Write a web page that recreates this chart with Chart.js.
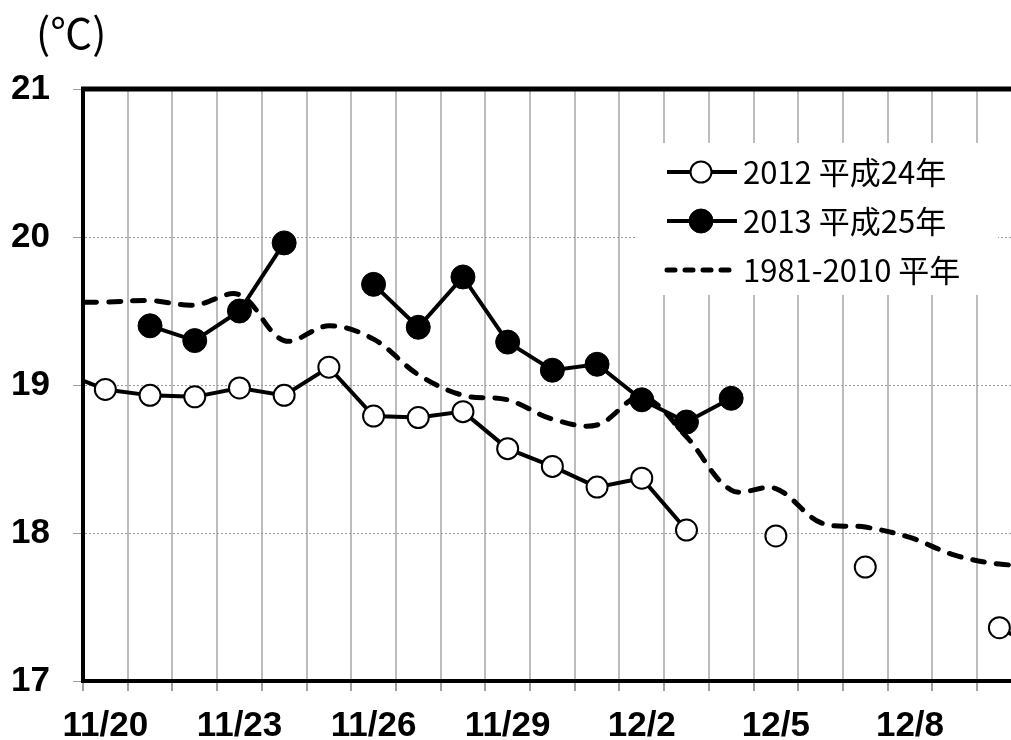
<!DOCTYPE html>
<html lang="ja">
<head>
<meta charset="utf-8">
<title>気温の推移</title>
<script src="https://cdn.jsdelivr.net/npm/chart.js@4.4.1/dist/chart.umd.min.js"></script>
<style>
  html, body { margin: 0; padding: 0; background: #fff; }
  #wrap { width: 1011px; height: 740px; }
</style>
</head>
<body>
<div id="wrap"><canvas id="chart" width="1011" height="740"></canvas></div>
<script>
// days shown on the axis are 11/20 .. 12/10; 11/19 and 12/11 sit just outside it
const days = ['11/19', '11/20', '11/21', '11/22', '11/23', '11/24', '11/25', '11/26',
  '11/27', '11/28', '11/29', '11/30', '12/1', '12/2', '12/3', '12/4', '12/5', '12/6',
  '12/7', '12/8', '12/9', '12/10', '12/11'];

const temp2012 = [19.09, 18.97, 18.93, 18.92, 18.98, 18.93, 19.12, 18.79, 18.78, 18.82,
  18.57, 18.45, 18.31, 18.37, 18.02, null, 17.98, null, 17.77, null, null, 17.36, 17.20];

const temp2013 = [null, null, 19.40, 19.30, 19.50, 19.96, null, 19.68, 19.39, 19.73,
  19.29, 19.10, 19.14, 18.90, 18.75, 18.91, null, null, null, null, null, null, null];

const tempNormal = [19.56, 19.56, 19.57, 19.54, 19.61, 19.30, 19.40, 19.31, 19.07, 18.93,
  18.90, 18.77, 18.73, 18.92, 18.65, 18.29, 18.30, 18.07, 18.04, 17.97, 17.85, 17.79, 17.78];

const seriesNames = ['2012 平成24年', '2013 平成25年', '1981-2010 平年'];
const yMin = 17;
const yMax = 21;
const unitLabel = '(℃)';

// x value of a day = its index on the visible axis (11/20 -> 0)
const toPoints = (values) => values.map((v, i) => ({ x: i - 1, y: v }));

const shownDays = days.slice(1, 22);

// white legend box in the upper right of the plot, plus top frame and unit label
const decorPlugin = {
  id: 'decor',
  beforeDatasetsDraw(chart) {
    const ctx = chart.ctx;
    const boxX = 635, boxY = 143, boxW = 363, boxH = 152;
    ctx.save();
    ctx.fillStyle = '#fff';
    ctx.fillRect(boxX, boxY, boxW, boxH);

    const rowY = [172, 221, 270];
    chart.data.datasets.forEach((ds, i) => {
      const y = rowY[i];
      ctx.strokeStyle = '#000';
      ctx.lineWidth = 4;
      if (ds.borderDash && ds.borderDash.length) {
        ctx.lineWidth = 5;
        ctx.lineCap = 'round';
        ctx.setLineDash([8, 10]);
      } else {
        ctx.lineCap = 'butt';
        ctx.setLineDash([]);
      }
      ctx.beginPath();
      ctx.moveTo(667, y);
      ctx.lineTo(737, y);
      ctx.stroke();
      ctx.setLineDash([]);
      if (ds.pointRadius > 0) {
        ctx.beginPath();
        ctx.arc(701, y, ds.pointRadius, 0, Math.PI * 2);
        ctx.fillStyle = ds.pointBackgroundColor;
        ctx.fill();
        ctx.lineWidth = ds.pointBorderWidth;
        ctx.strokeStyle = '#000';
        ctx.stroke();
      }
      ctx.fillStyle = '#000';
      ctx.font = '31px "Noto Sans CJK JP"';
      ctx.textAlign = 'left';
      ctx.textBaseline = 'middle';
      ctx.fillText(ds.label, 743, y);
    });
    ctx.restore();
  },
  afterDraw(chart) {
    const ctx = chart.ctx;
    const area = chart.chartArea;
    ctx.save();
    ctx.strokeStyle = '#000';
    ctx.lineWidth = 5;
    ctx.beginPath();
    ctx.moveTo(area.left - 2, area.top);
    ctx.lineTo(area.right, area.top);
    ctx.stroke();

    ctx.fillStyle = '#000';
    ctx.font = '42px "Noto Sans CJK JP"';
    ctx.textAlign = 'left';
    ctx.textBaseline = 'middle';
    ctx.fillText(unitLabel, 36, 33);
    ctx.restore();
  }
};

const ctx = document.getElementById('chart').getContext('2d');
new Chart(ctx, {
  type: 'line',
  data: {
    datasets: [
      {
        label: seriesNames[0],
        data: toPoints(temp2012),
        borderColor: '#000',
        borderWidth: 4,
        pointRadius: 10.5,
        pointBackgroundColor: '#fff',
        pointBorderColor: '#000',
        pointBorderWidth: 2,
        spanGaps: false,
        tension: 0,
        order: 1
      },
      {
        label: seriesNames[1],
        data: toPoints(temp2013),
        borderColor: '#000',
        borderWidth: 4,
        pointRadius: 12,
        pointBackgroundColor: '#000',
        pointBorderColor: '#000',
        pointBorderWidth: 1,
        spanGaps: false,
        tension: 0,
        order: 2
      },
      {
        label: seriesNames[2],
        data: toPoints(tempNormal),
        borderColor: '#000',
        borderWidth: 5,
        borderDash: [12, 12],
        borderCapStyle: 'round',
        pointRadius: 0,
        tension: 0.35,
        order: 3
      }
    ]
  },
  options: {
    responsive: false,
    animation: false,
    events: [],
    layout: { autoPadding: false, padding: { top: 89, right: 0, bottom: 0, left: 0 } },
    plugins: {
      legend: { display: false },
      tooltip: { enabled: false }
    },
    scales: {
      x: {
        type: 'linear',
        min: -0.5,
        max: 20.26,
        afterBuildTicks: (scale) => {
          scale.ticks = shownDays.map((d, c) => ({ value: c - 0.5 }));
        },
        afterFit: (scale) => {
          scale.height = 59;
          scale.paddingLeft = 0;
          scale.paddingRight = 0;
        },
        grid: {
          color: '#bdbdbd',
          lineWidth: 2,
          tickLength: 10,
          tickColor: '#a0a0a0',
          tickWidth: 2
        },
        border: { display: true, color: '#000', width: 4 },
        ticks: {
          autoSkip: false,
          maxRotation: 0,
          padding: 18,
          labelOffset: 22.36,
          color: '#000',
          font: { family: '"Liberation Sans", Arial, sans-serif', size: 35, weight: 'bold', lineHeight: 1 },
          callback: (value, index) => (index % 3 === 0 ? shownDays[index] : '')
        }
      },
      y: {
        min: yMin,
        max: yMax,
        afterFit: (scale) => {
          scale.width = 83;
          scale.paddingTop = 0;
          scale.paddingBottom = 0;
        },
        grid: {
          color: '#9a9a9a',
          lineWidth: 1,
          tickLength: 10,
          tickColor: '#9a9a9a',
          tickWidth: 1
        },
        border: { display: true, color: '#000', width: 4, dash: [2, 2] },
        ticks: {
          stepSize: 1,
          padding: 23,
          color: '#000',
          font: { family: '"Liberation Sans", Arial, sans-serif', size: 35, weight: 'bold' }
        }
      }
    }
  },
  plugins: [decorPlugin]
});
</script>
</body>
</html>
